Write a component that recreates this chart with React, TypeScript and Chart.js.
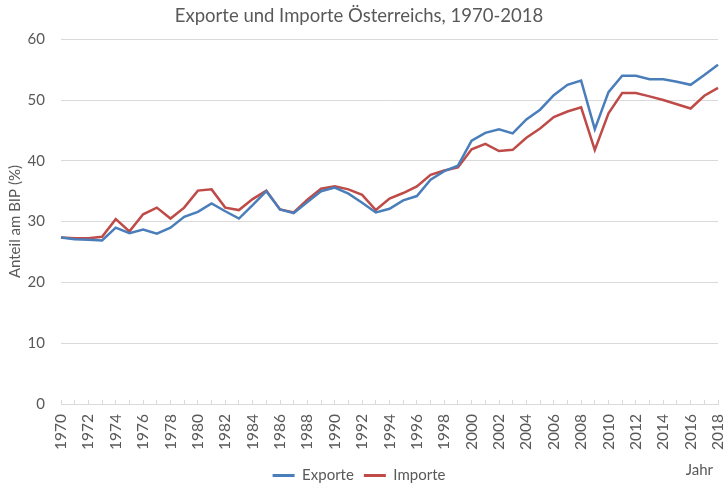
import React, { useEffect, useRef } from "react";
import { Chart, registerables } from "chart.js";

Chart.register(...registerables);

const years = [
  "1970", "1971", "1972", "1973", "1974", "1975", "1976", "1977", "1978", "1979",
  "1980", "1981", "1982", "1983", "1984", "1985", "1986", "1987", "1988", "1989",
  "1990", "1991", "1992", "1993", "1994", "1995", "1996", "1997", "1998", "1999",
  "2000", "2001", "2002", "2003", "2004", "2005", "2006", "2007", "2008", "2009",
  "2010", "2011", "2012", "2013", "2014", "2015", "2016", "2017", "2018",
];

const exporte = [
  27.4, 27.1, 27.0, 26.9, 29.0, 28.1, 28.7, 28.0, 29.0, 30.8,
  31.6, 33.0, 31.7, 30.5, 32.7, 35.0, 32.0, 31.4, 33.2, 35.0,
  35.6, 34.6, 33.1, 31.5, 32.1, 33.5, 34.2, 36.9, 38.3, 39.2,
  43.3, 44.6, 45.2, 44.5, 46.8, 48.4, 50.8, 52.5, 53.2, 45.2,
  51.3, 54.0, 54.0, 53.4, 53.4, 53.0, 52.5, 54.1, 55.8,
];

const importe = [
  27.4, 27.25, 27.25, 27.5, 30.4, 28.4, 31.2, 32.3, 30.5, 32.3,
  35.1, 35.3, 32.3, 31.9, 33.7, 35.1, 32.0, 31.5, 33.6, 35.4,
  35.8, 35.3, 34.4, 31.9, 33.8, 34.7, 35.8, 37.7, 38.4, 38.9,
  41.9, 42.8, 41.6, 41.8, 43.8, 45.3, 47.2, 48.1, 48.8, 41.8,
  47.8, 51.15, 51.15, 50.6, 50.0, 49.3, 48.6, 50.7, 52.0,
];

const seriesNames = ["Exporte", "Importe"];
const chartTitle = "Exporte und Importe Österreichs, 1970-2018";
const yAxisTitle = "Anteil am BIP (%)";
const xAxisTitle = "Jahr";
const yMin = 0;
const yMax = 60;
const yStep = 10;

const FONT = "Lato, 'Open Sans', sans-serif";
const TEXT = "#595959";
const GRID = "#d9d9d9";
const BLUE = "#4a7ebb";
const RED = "#be4b48";

export default function App() {
  const ref = useRef<HTMLCanvasElement>(null);

  useEffect(() => {
    if (!ref.current) return;
    const jahrPlugin = {
      id: "jahrLabel",
      afterDraw(chart: any) {
        const ctx = chart.ctx;
        ctx.save();
        ctx.font = `15px ${FONT}`;
        ctx.fillStyle = TEXT;
        ctx.textAlign = "right";
        ctx.textBaseline = "middle";
        ctx.fillText(xAxisTitle, chart.chartArea.right - 5, chart.chartArea.bottom + 66);
        ctx.restore();
      },
    };

    const chart = new Chart(ref.current, {
      type: "line",
      data: {
        labels: years,
        datasets: [
          {
            label: seriesNames[0],
            data: exporte,
            borderColor: BLUE,
            backgroundColor: BLUE,
            borderWidth: 2.5,
            pointRadius: 0,
            tension: 0,
          },
          {
            label: seriesNames[1],
            data: importe,
            borderColor: RED,
            backgroundColor: RED,
            borderWidth: 2.5,
            pointRadius: 0,
            tension: 0,
          },
        ],
      },
      options: {
        responsive: false,
        animation: false,
        layout: { padding: { left: 0, right: 9, top: 0, bottom: -9 } },
        plugins: {
          title: {
            display: true,
            text: chartTitle,
            color: TEXT,
            font: { family: FONT, size: 18.5, weight: "normal" },
            padding: { top: 5, bottom: 12 },
          },
          legend: {
            position: "bottom",
            labels: {
              color: TEXT,
              font: { family: FONT, size: 15 },
              boxWidth: 22,
              boxHeight: 3,
              padding: 10,
              generateLabels(chart: any) {
                const items = (Chart.defaults.plugins.legend.labels as any).generateLabels(chart);
                return items.map((it: any) => ({ ...it, fillStyle: it.strokeStyle, lineWidth: 0 }));
              },
            },
          },
          tooltip: { enabled: false },
        },
        scales: {
          x: {
            type: "category",
            offset: false,
            grid: {
              drawOnChartArea: false,
              drawTicks: true,
              tickLength: -4,
              color: GRID,
            },
            border: { color: GRID },
            ticks: {
              color: TEXT,
              font: { family: FONT, size: 15.5 },
              autoSkip: false,
              maxRotation: 90,
              minRotation: 90,
              padding: 14,
              callback: (_v: any, i: number) => (i % 2 === 0 ? years[i] : ""),
            },
            afterFit(scale: any) {
              scale.height = 54;
              scale.paddingLeft = 0;
              scale.paddingRight = 0;
            },
          },
          y: {
            min: yMin,
            max: yMax,
            grid: { color: GRID, drawTicks: false },
            border: { display: false },
            ticks: {
              stepSize: yStep,
              color: TEXT,
              font: { family: FONT, size: 15 },
              padding: 16,
            },
            title: {
              display: true,
              text: yAxisTitle,
              color: TEXT,
              font: { family: FONT, size: 15 },
              padding: { top: 6, bottom: 0 },
            },
            afterFit(scale: any) {
              scale.width = 61;
            },
          },
        },
      },
      plugins: [jahrPlugin],
    } as any);

    return () => chart.destroy();
  }, []);

  return (
    <div style={{ position: "fixed", left: 0, top: 0, width: 727, height: 484, background: "#fff" }}>
      <canvas ref={ref} width={727} height={484} style={{ display: "block" }} />
    </div>
  );
}
